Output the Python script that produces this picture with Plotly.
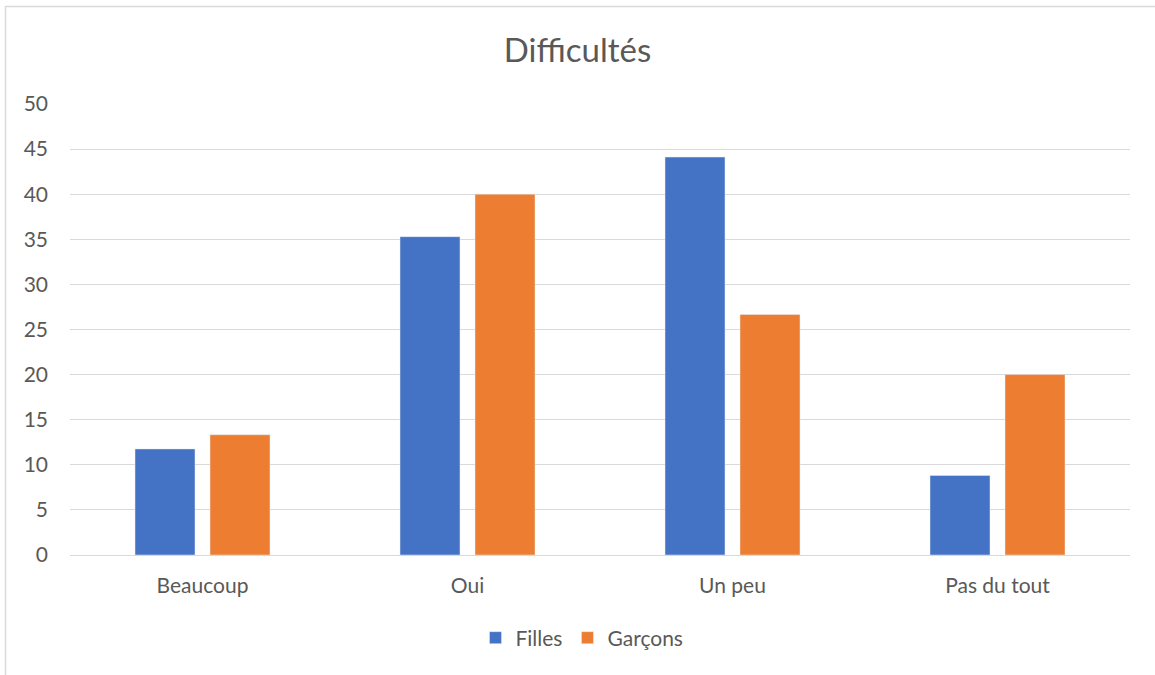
import plotly.graph_objects as go

categories = ["Beaucoup", "Oui", "Un peu", "Pas du tout"]
filles = [11.76, 35.29, 44.12, 8.82]
garcons = [13.33, 40.0, 26.67, 20.0]

BLUE = "#4472C4"
ORANGE = "#ED7D31"
TEXT = "#595959"
GRID = "#D9D9D9"
FONT = "Lato, 'Open Sans', sans-serif"

W, H = 1155, 675
L, R, T, B = 70, 25, 104, 120

fig = go.Figure()
fig.add_trace(go.Bar(name="Filles", x=categories, y=filles, marker_color=BLUE))
fig.add_trace(go.Bar(name="Garçons", x=categories, y=garcons, marker_color=ORANGE))

pw = W - L - R
ph = H - T - B

fig.update_layout(
    width=W,
    height=H,
    margin=dict(l=L, r=R, t=T, b=B, pad=0),
    paper_bgcolor="white",
    plot_bgcolor="white",
    barmode="group",
    bargap=0.434,
    bargroupgap=0.2,
    font=dict(family=FONT, color=TEXT, size=21),
    title=dict(
        text="Difficultés",
        x=0.5,
        xanchor="center",
        y=1 - 50 / H,
        yanchor="middle",
        yref="container",
        font=dict(family=FONT, size=33, color=TEXT),
    ),
    legend=dict(
        orientation="h",
        x=0.5 + (582 - (L + pw / 2)) / pw,
        xanchor="center",
        y=-(638 - (T + ph)) / ph,
        yanchor="middle",
        font=dict(family=FONT, size=21, color=TEXT),
        itemwidth=30,
        traceorder="normal",
    ),
    xaxis=dict(
        showgrid=False,
        showline=False,
        zeroline=False,
        ticks="",
        ticklabelstandoff=16,
        tickfont=dict(family=FONT, size=21, color=TEXT),
    ),
    yaxis=dict(
        range=[0, 50],
        dtick=5,
        showgrid=True,
        gridcolor=GRID,
        gridwidth=1,
        zeroline=True,
        zerolinecolor=GRID,
        zerolinewidth=1,
        showline=False,
        ticks="",
        ticklabelstandoff=21,
        tickfont=dict(family=FONT, size=21, color=TEXT),
    ),
    shapes=[
        dict(
            type="rect",
            xref="paper",
            yref="paper",
            x0=(5.5 - L) / pw,
            x1=(W + 10 - L) / pw,
            y0=-(H + 10 - T - ph) / ph,
            y1=1 + (T - 6.5) / ph,
            line=dict(color=GRID, width=1.5),
            fillcolor="rgba(0,0,0,0)",
            layer="below",
        )
    ],
)

fig.write_html("out.html")
